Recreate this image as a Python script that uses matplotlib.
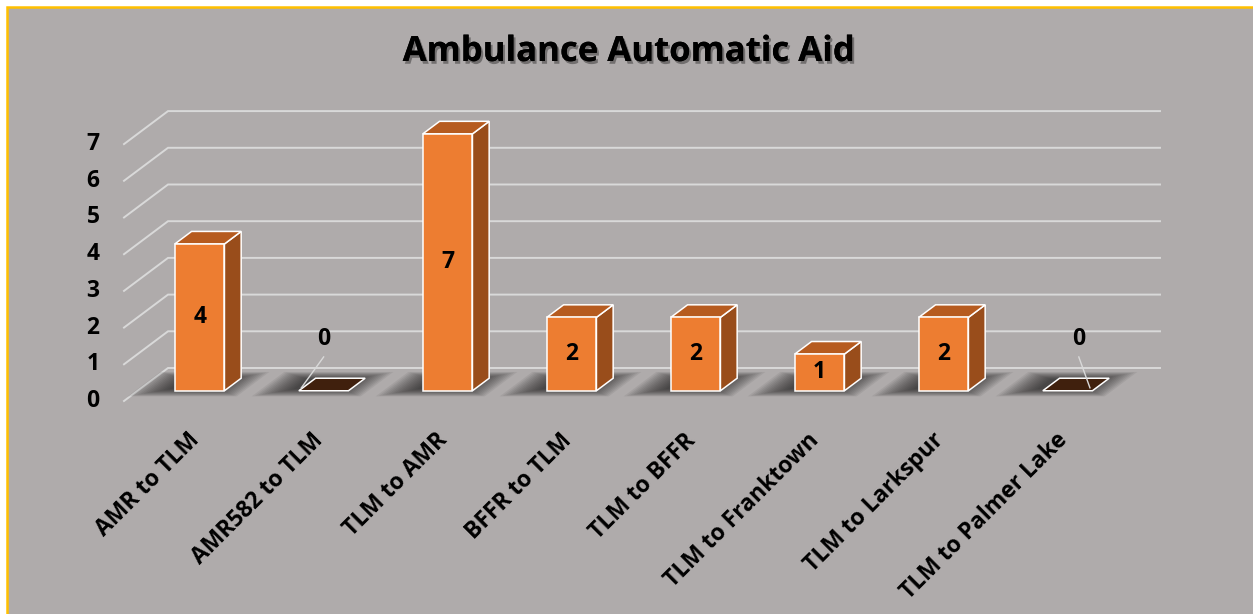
import matplotlib
matplotlib.use('Agg')
import matplotlib.pyplot as plt
import matplotlib.patheffects as pe
from matplotlib.patches import Polygon, Rectangle
from matplotlib.transforms import IdentityTransform

categories = ['AMR to TLM', 'AMR582 to TLM', 'TLM to AMR', 'BFFR to TLM',
              'TLM to BFFR', 'TLM to Franktown', 'TLM to Larkspur', 'TLM to Palmer Lake']
values = [4, 0, 7, 2, 2, 1, 2, 0]
y_ticks = [0, 1, 2, 3, 4, 5, 6, 7]

# fake 3d: depth vector in data units (category, value)
DX, DY = 0.355, 0.899
D0, D1 = 0.31, 0.69   # bar front / back depth
W = 0.4

FRONT = '#ED7D31'
TOP = '#B65B1F'
SIDE = '#994D1B'
ZERO = '#40200D'
GRID = '#D9D9D9'
BG = '#AFABAB'

plt.rcParams['font.family'] = ['Open Sans', 'DejaVu Sans']


def proj(x, v, d):
    return (x + d * DX, v + d * DY)


fig = plt.figure(figsize=(12.53, 6.14), dpi=100, facecolor='white')
frame = Rectangle((7, -20), 1300, 627, facecolor=BG, edgecolor='#FFC000', lw=1.8, zorder=-5)
frame.set_transform(IdentityTransform())
fig.patches.append(frame)

ax = fig.add_axes([0, 0, 1, 1])
ax.set_xlim(-1.5, 8.605)
ax.set_ylim(-5.804, 10.926)
ax.axis('off')

n = len(categories)
xl, xr = -0.5, n - 0.5

# back wall / side wall gridlines
for v in y_ticks:
    p0 = proj(xl, v, 0)
    p1 = proj(xl, v, 1)
    p2 = proj(xr, v, 1)
    ax.plot([p0[0], p1[0], p2[0]], [p0[1], p1[1], p2[1]], color=GRID, lw=1.4,
            solid_joinstyle='miter', zorder=1)
    ax.text(-0.75, v, str(v), ha='center', va='center', fontsize=16.5,
            fontweight='bold', color='black')

# soft floor shadows, one blob per bar
layers = 14
for i in range(n):
    for k in range(layers):
        t = k / (layers - 1)
        xa = i - 0.52 + t * 0.26
        xb = i + 0.36 - t * 0.24
        da = 0.14 + t * 0.22
        db = 0.88 - t * 0.22
        pts = [proj(xa, 0, da), proj(xb, 0, da), proj(xb, 0, db), proj(xa, 0, db)]
        ax.add_patch(Polygon(pts, closed=True, facecolor='#151515', edgecolor='none',
                             alpha=0.07, zorder=2))

# bars
for i, v in enumerate(values):
    x0, x1 = i - W / 2, i + W / 2
    top = [proj(x0, v, D0), proj(x1, v, D0), proj(x1, v, D1), proj(x0, v, D1)]
    if v == 0:
        ax.add_patch(Polygon(top, closed=True, facecolor=ZERO, edgecolor='white',
                             lw=1.1, joinstyle='miter', zorder=3))
        continue
    front = [proj(x0, 0, D0), proj(x1, 0, D0), proj(x1, v, D0), proj(x0, v, D0)]
    side = [proj(x1, 0, D0), proj(x1, 0, D1), proj(x1, v, D1), proj(x1, v, D0)]
    for pts, c in [(side, SIDE), (top, TOP), (front, FRONT)]:
        ax.add_patch(Polygon(pts, closed=True, facecolor=c, edgecolor='white',
                             lw=1.1, joinstyle='miter', zorder=3))
    cx, cy = proj(i, v / 2, D0)
    ax.text(cx, cy, str(v), ha='center', va='center', fontsize=16.5,
            fontweight='bold', color='black', zorder=4)

# labels for zero bars sit above with a leader line
zero_dx = {1: 0.0, 7: 0.09}
zero_corner = {1: -1, 7: 1}
for i, v in enumerate(values):
    if v != 0:
        continue
    fx, fy = proj(i, 0, D0)
    lx = fx + zero_dx[i]
    ax.text(lx, 1.68, str(v), ha='center', va='center', fontsize=16.5,
            fontweight='bold', color='black', zorder=4)
    ex, ey = proj(i + zero_corner[i] * W / 2, 0, D0)
    ax.plot([lx, ex - zero_corner[i] * 0.02], [1.2, ey + 0.08], color=GRID, lw=1.0, zorder=4)

# category labels
for i, name in enumerate(categories):
    ax.text(i + 0.08, -0.98, name, rotation=45, rotation_mode='anchor',
            ha='right', va='center', fontsize=16.5, fontweight='bold', color='black')

fig.text(629 / 1253, 1 - 52 / 614, 'Ambulance Automatic Aid', ha='center', va='center',
         fontsize=25, fontweight='bold', color='black',
         path_effects=[pe.withSimplePatchShadow(offset=(1.5, -2), shadow_rgbFace='black',
                                                alpha=0.35), pe.Normal()])

fig.savefig('out.png', dpi=100, facecolor=fig.get_facecolor())
